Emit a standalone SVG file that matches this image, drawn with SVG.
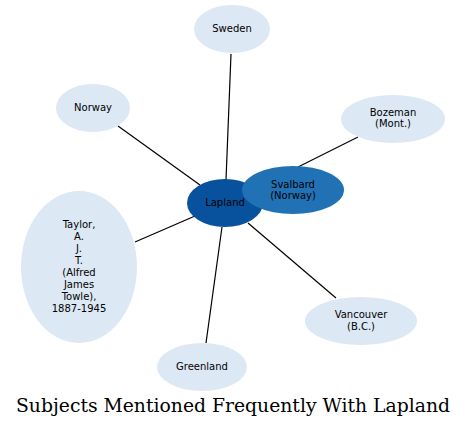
<svg xmlns="http://www.w3.org/2000/svg" width="467" height="427" viewBox="0 0 467 427">
<style>
.n{fill:#dde8f5}
.t{font-family:"DejaVu Sans",sans-serif;font-size:10px;text-anchor:middle;fill:#000}
.e{stroke:#000;stroke-width:1.2;fill:none}
</style>
<rect width="467" height="427" fill="#fff"/>
<g id="edges">
<line class="e" x1="231" y1="54" x2="226" y2="180"/>
<line class="e" x1="118" y1="126" x2="200" y2="185"/>
<line class="e" x1="358" y1="137" x2="298" y2="167"/>
<line class="e" x1="135" y1="242" x2="195" y2="216"/>
<line class="e" x1="248" y1="223" x2="336" y2="298"/>
<line class="e" x1="222" y1="227" x2="206" y2="343"/>
<line class="e" x1="260" y1="196" x2="264" y2="195"/>
</g>
<g id="sweden"><ellipse class="n" cx="232" cy="29" rx="38" ry="24"/><text class="t" x="232" y="32">Sweden</text></g>
<g id="norway"><ellipse class="n" cx="93" cy="108" rx="37" ry="24"/><text class="t" x="93" y="111">Norway</text></g>
<g id="bozeman"><ellipse class="n" cx="393" cy="119" rx="52" ry="24"/><text class="t" x="393" y="116">Bozeman</text><text class="t" x="393" y="127">(Mont.)</text></g>
<g id="taylor"><ellipse class="n" cx="79" cy="267" rx="58" ry="76"/>
<text class="t" x="79" y="228">Taylor,</text><text class="t" x="79" y="240">A.</text><text class="t" x="79" y="252">J.</text><text class="t" x="79" y="264">T.</text><text class="t" x="79" y="276">(Alfred</text><text class="t" x="79" y="288">James</text><text class="t" x="79" y="300">Towle),</text><text class="t" x="79" y="312">1887-1945</text></g>
<g id="vancouver"><ellipse class="n" cx="361" cy="321" rx="56" ry="24"/><text class="t" x="361" y="318">Vancouver</text><text class="t" x="361" y="330">(B.C.)</text></g>
<g id="greenland"><ellipse class="n" cx="202" cy="367" rx="45" ry="24"/><text class="t" x="202" y="370">Greenland</text></g>
<g id="lapland"><ellipse cx="225" cy="203" rx="38" ry="24" fill="#08519c"/><text class="t" x="225" y="206">Lapland</text></g>
<g id="svalbard"><ellipse cx="293" cy="190" rx="51" ry="24" fill="#2171b5"/><text class="t" x="293" y="188">Svalbard</text><text class="t" x="293" y="199">(Norway)</text></g>
<text x="233" y="412" font-family="'DejaVu Serif',serif" font-size="18.6" text-anchor="middle" textLength="434" lengthAdjust="spacingAndGlyphs">Subjects Mentioned Frequently With Lapland</text>
</svg>
